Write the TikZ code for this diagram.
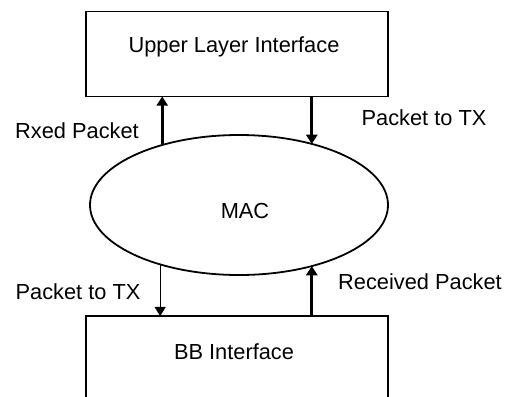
\documentclass[tikz,border=0pt]{standalone}
\usepackage{fontspec}
\setmainfont{Liberation Sans}
\usetikzlibrary{arrows.meta,shapes.geometric}
\begin{document}
\begin{tikzpicture}[x=0.5pt,y=-0.5pt,
  box/.style={draw,line width=0.9pt,rectangle,minimum width=151pt,minimum height=42.5pt,inner sep=0pt,outer sep=0pt},
  oval/.style={draw,line width=0.9pt,ellipse,minimum width=149pt,minimum height=70pt,inner sep=0pt,outer sep=0pt},
  txt/.style={font=\fontsize{10.9}{13}\selectfont,inner sep=0pt},
  thk/.style={line width=1.5pt,-{Triangle[length=4.6pt,width=5.6pt]}},
  thn/.style={line width=0.55pt,-{Triangle[length=4.6pt,width=5.6pt]}}]
\useasboundingbox (0,0) rectangle (508,396);
\clip (0,0) rectangle (508,396);
\node[box] (top) at (237,54) {};
\node[txt] (toplbl) at (234,47) {Upper Layer Interface};
\node[box] (bot) at (237,358.5) {};
\node[txt] (botlbl) at (234,352) {BB Interface};
\node[oval] (mac) at (239,205) {};
\node[txt] (maclbl) at (245,211) {MAC};
\draw[thk] (mac.142.4) -- (mac.142.4 |- top.south);
\draw[thk] (mac.40.4 |- top.south) -- (mac.40.4);
\draw[thn] (mac.217.9) -- (mac.217.9 |- bot.north);
\draw[thk] (mac.320.1 |- bot.north) -- (mac.320.1);
\node[txt] (l1) at (77,131) {Rxed Packet};
\node[txt] (l2) at (424,118) {Packet to TX};
\node[txt] (l3) at (78,292) {Packet to TX};
\node[txt] (l4) at (420,282) {Received Packet};
\end{tikzpicture}
\end{document}
